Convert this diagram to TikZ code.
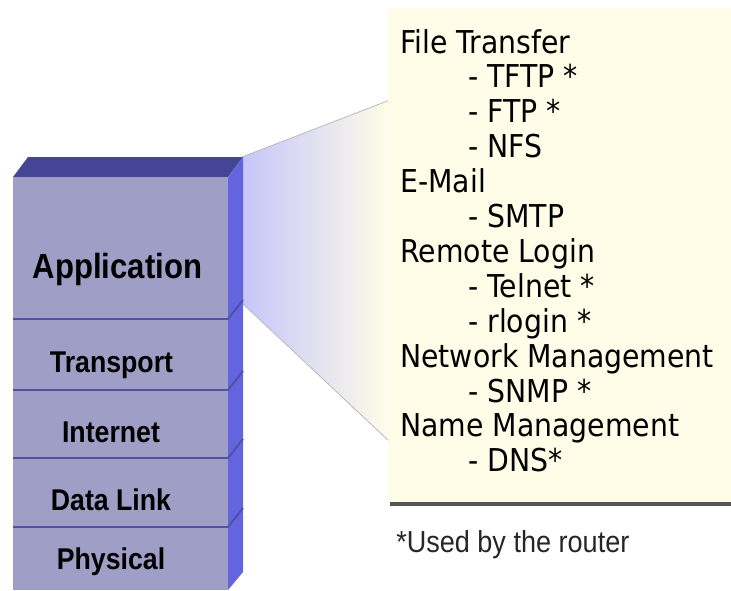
\documentclass[tikz,border=0pt]{standalone}
\usepackage{fontspec}
\newfontfamily\boxfont[FakeStretch=0.9]{DejaVu Sans}
\newfontfamily\layerfont[FakeStretch=0.89]{Liberation Sans}
\newfontfamily\notefont[FakeStretch=0.89]{Liberation Sans}

\definecolor{faceC}{RGB}{158,158,198}
\definecolor{topC}{RGB}{69,69,150}
\definecolor{sideC}{RGB}{100,100,222}
\definecolor{rimC}{RGB}{80,80,165}
\definecolor{paperC}{RGB}{255,253,232}
\definecolor{beamC}{RGB}{198,198,250}
\definecolor{ruleC}{RGB}{85,85,85}

\tikzset{
  layerlabel/.style={anchor=base, inner sep=0pt, text=black,
    font={\layerfont\bfseries\fontsize{22.5}{26}\selectfont}},
  biglabel/.style={layerlabel,
    font={\layerfont\bfseries\fontsize{26.2}{30}\selectfont}},
  boxtext/.style={anchor=base west, inner sep=0pt, text=black,
    font={\boxfont\fontsize{23.6}{28}\selectfont}},
  notetext/.style={anchor=base west, inner sep=0pt, text=black!85,
    font={\notefont\fontsize{22.8}{26}\selectfont}},
  rim/.style={draw=rimC, line width=1.4pt},
  beamedge/.style={draw=gray!55, line width=0.6pt}
}

\begin{document}
\begin{tikzpicture}[x=0.75pt, y=-0.75pt]
\useasboundingbox (0,0) rectangle (731,590);

% magnifying beam from the Application layer to the list
\shade[left color=beamC, right color=paperC]
  (242,157) -- (390,100) -- (390,442) -- (242,303) -- cycle;
\draw[beamedge] (242,157) -- (390,100);
\draw[beamedge] (242,303) -- (390,442);

% list panel with its bottom rule
\fill[paperC] (388,8) rectangle (731,503);
\draw[ruleC, line width=3pt] (390,504) -- (731,504);

% protocol stack: top, side and front faces
\fill[topC] (13,177) -- (28,157) -- (243,157) -- (228,177) -- cycle;
\fill[sideC] (228,177) -- (243,157) -- (243,572) -- (228,590) -- cycle;
\fill[faceC] (13,177) rectangle (228,590);
\foreach \y in {319,390,458,527}
  \draw[rim] (13,\y) -- (228,\y) -- (243,\y-19);

% layer names
\node[biglabel]   (app)  at (117.5,278) {Application};
\node[layerlabel] (tra)  at (111.5,372) {Transport};
\node[layerlabel] (inet) at (111,442)   {Internet};
\node[layerlabel] (dl)   at (111,510)   {Data Link};
\node[layerlabel] (phy)  at (111,569)   {Physical};

% application protocols
\foreach \i/\x/\t in {
  0/400/File Transfer,
  1/468/- TFTP *,
  2/468/- FTP *,
  3/468/- NFS,
  4/400/E-Mail,
  5/468/- SMTP,
  6/400/Remote Login,
  7/468/- Telnet *,
  8/468/- rlogin *,
  9/400/Network Management,
  10/468/- SNMP *,
  11/400/Name Management,
  12/468/- DNS*}
  \node[boxtext] (line\i) at (\x,53+34.9*\i) {\t};

\node[notetext] (note) at (396,552) {*Used by the router};
\end{tikzpicture}
\end{document}
